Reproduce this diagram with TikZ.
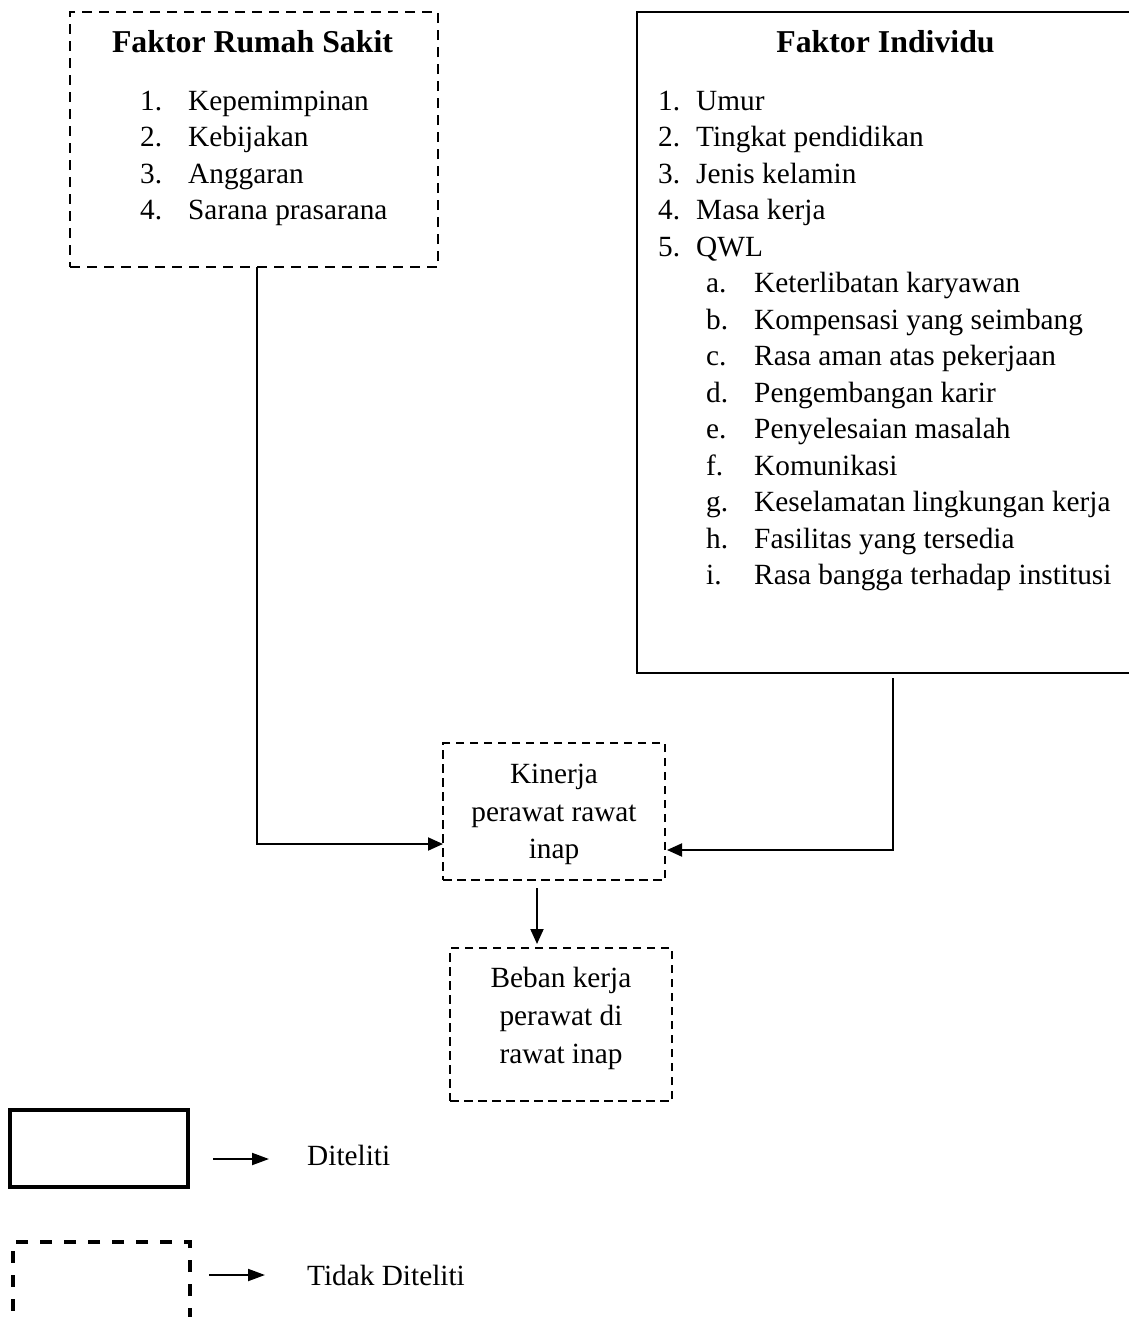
\documentclass[tikz,border=0pt]{standalone}
\usepackage{fontspec}
\setmainfont{Liberation Serif}
\usetikzlibrary{arrows.meta}
\begin{document}
\begin{tikzpicture}[x=1pt,y=-1pt,
  every node/.style={font=\fontsize{29.3}{36.5}\selectfont},
  boxbase/.style={draw,rectangle,inner sep=0pt,outer sep=0pt},
  dashbox/.style={boxbase,line width=2.2pt,dash pattern=on 10pt off 7pt},
  smalldash/.style={boxbase,line width=1.7pt,dash pattern=on 8.5pt off 5.5pt},
  solidbox/.style={boxbase,line width=2pt},
  txt/.style={anchor=base west,inner sep=0pt},
  ctxt/.style={anchor=base,inner sep=0pt},
  ttl/.style={anchor=base,inner sep=0pt,font=\fontsize{31.8}{36}\selectfont\bfseries},
  conn/.style={line width=2pt},
  arr/.style={conn,-{Triangle[length=15pt,width=13pt]}}
]
\useasboundingbox (0,0) rectangle (1129,1317);

% Faktor Rumah Sakit
\node[dashbox,minimum width=368pt,minimum height=255pt] (frs) at (254,139.5) {};
\node[ttl] (frst) at (252.5,52) {Faktor Rumah Sakit};
\node[txt] (frs1n) at (140,110) {1.};
\node[txt] (frs1) at (188,110) {Kepemimpinan};
\node[txt] (frs2n) at (140,146.5) {2.};
\node[txt] (frs2) at (188,146.5) {Kebijakan};
\node[txt] (frs3n) at (140,183) {3.};
\node[txt] (frs3) at (188,183) {Anggaran};
\node[txt] (frs4n) at (140,219.5) {4.};
\node[txt] (frs4) at (188,219.5) {Sarana prasarana};

% Faktor Individu
\node[solidbox,minimum width=508pt,minimum height=661pt] (fi) at (891,342.5) {};
\node[ttl] (fit) at (885.5,52) {Faktor Individu};
\node[txt] (fi1n) at (658,110) {1.};
\node[txt] (fi1) at (696,110) {Umur};
\node[txt] (fi2n) at (658,146.5) {2.};
\node[txt] (fi2) at (696,146.5) {Tingkat pendidikan};
\node[txt] (fi3n) at (658,183) {3.};
\node[txt] (fi3) at (696,183) {Jenis kelamin};
\node[txt] (fi4n) at (658,219.5) {4.};
\node[txt] (fi4) at (696,219.5) {Masa kerja};
\node[txt] (fi5n) at (658,256) {5.};
\node[txt] (fi5) at (696,256) {QWL};
\node[txt] (fian) at (706,292.5) {a.};
\node[txt] (fia) at (754,292.5) {Keterlibatan karyawan};
\node[txt] (fibn) at (706,329) {b.};
\node[txt] (fib) at (754,329) {Kompensasi yang seimbang};
\node[txt] (ficn) at (706,365.5) {c.};
\node[txt] (fic) at (754,365.5) {Rasa aman atas pekerjaan};
\node[txt] (fidn) at (706,402) {d.};
\node[txt] (fid) at (754,402) {Pengembangan karir};
\node[txt] (fien) at (706,438.5) {e.};
\node[txt] (fie) at (754,438.5) {Penyelesaian masalah};
\node[txt] (fifn) at (706,475) {f.};
\node[txt] (fif) at (754,475) {Komunikasi};
\node[txt] (fign) at (706,511.5) {g.};
\node[txt] (fig) at (754,511.5) {Keselamatan lingkungan kerja};
\node[txt] (fihn) at (706,548) {h.};
\node[txt] (fih) at (754,548) {Fasilitas yang tersedia};
\node[txt] (fiin) at (706,584.5) {i.};
\node[txt] (fii) at (754,584.5) {Rasa bangga terhadap institusi};

% Kinerja
\node[smalldash,minimum width=222pt,minimum height=137pt] (kin) at (554,811.5) {};
\node[ctxt] (kin1) at (554,783) {Kinerja};
\node[ctxt] (kin2) at (554,821) {perawat rawat};
\node[ctxt] (kin3) at (554,858) {inap};

% Beban kerja
\node[smalldash,minimum width=222pt,minimum height=153pt] (beb) at (561,1024.5) {};
\node[ctxt] (beb1) at (561,987) {Beban kerja};
\node[ctxt] (beb2) at (561,1025) {perawat di};
\node[ctxt] (beb3) at (561,1063) {rawat inap};

% connectors
\draw[arr] ([xshift=3pt]frs.south) |- ([yshift=-32.5pt]kin.west);
\draw[arr] ([xshift=256pt,yshift=-5pt]fi.south west) |- ([yshift=-38.5pt,xshift=2pt]kin.east);
\draw[arr] ([xshift=-17pt,yshift=-8pt]kin.south) -- ([xshift=-24pt,yshift=4pt]beb.north);

% legend
\node[boxbase,line width=3.3pt,minimum width=178pt,minimum height=77pt] (leg1) at (99,1148.5) {};
\node[boxbase,line width=3.3pt,dash pattern=on 12pt off 12pt,minimum width=177pt,minimum height=93pt] (leg2) at (101.5,1288.5) {};
\coordinate (la1) at (213,1159);
\coordinate (lb1) at (269,1159);
\coordinate (la2) at (209,1275);
\coordinate (lb2) at (265,1275);
\draw[conn,-{Triangle[length=17pt,width=12pt]}] (la1) -- (lb1);
\draw[conn,-{Triangle[length=17pt,width=12pt]}] (la2) -- (lb2);
\node[txt] (leg1t) at (307,1165) {Diteliti};
\node[txt] (leg2t) at (307,1285) {Tidak Diteliti};
\end{tikzpicture}
\end{document}
